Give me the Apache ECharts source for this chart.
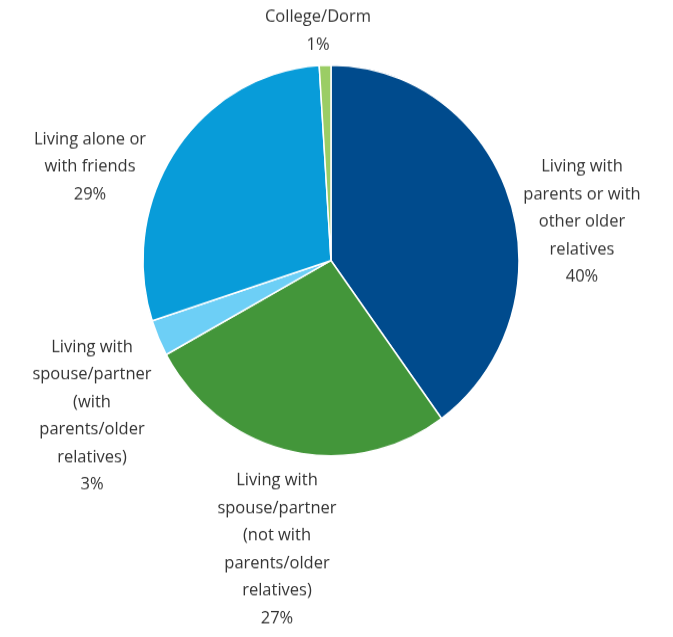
<!DOCTYPE html>
<html>
<head>
<meta charset="utf-8">
<style>
  html, body { margin: 0; padding: 0; background: #fff; overflow: hidden; }
  #wrap { width: 673px; height: 637px; overflow: hidden; }
  /* the pie is drawn slightly taller than wide */
  #chart { width: 673px; height: 613px; transform: scale(1, 1.039); transform-origin: 0 0; }
</style>
<script src="https://cdn.jsdelivr.net/npm/echarts@6/dist/echarts.min.js"></script>
</head>
<body>
<div id="wrap"><div id="chart"></div></div>
<script>
// Living arrangements, share of respondents (%)
const categories = [
  'Living with\nparents or with\nother older\nrelatives',
  'Living with\nspouse/partner\n(not with\nparents/older\nrelatives)',
  'Living with\nspouse/partner\n(with\nparents/older\nrelatives)',
  'Living alone or\nwith friends',
  'College/Dorm'
];
const values = [40, 27, 3, 29, 1];
const colors = ['#004b8d', '#43963a', '#6dcff6', '#089cd9', '#9bcd65'];

// Label anchor points (centre of each text block), in chart pixels
const labelSpots = [[582, 213.5], [277, 529], [92, 400.5], [90, 160.5], [318, 30]];

const chart = echarts.init(document.getElementById('chart'), null, { renderer: 'canvas' });
chart.setOption({
  animation: false,
  series: [{
    type: 'pie',
    center: [331, 250.7],
    radius: 188,
    startAngle: 90,
    clockwise: true,
    data: categories.map((name, i) => ({
      name: name,
      value: values[i],
      itemStyle: { color: colors[i] }
    })),
    itemStyle: { borderColor: '#ffffff', borderWidth: 1.5 },
    label: {
      show: true,
      position: 'outside',
      formatter: p => p.name + '\n' + p.value + '%',
      color: '#333333',
      fontFamily: 'Open Sans',
      fontSize: 16.5,
      lineHeight: 26.5,
      align: 'center',
      overflow: 'none'
    },
    labelLine: { show: false },
    labelLayout: p => ({
      x: labelSpots[p.dataIndex][0],
      y: labelSpots[p.dataIndex][1],
      align: 'center',
      verticalAlign: 'middle'
    }),
    emphasis: { disabled: true }
  }]
});
</script>
</body>
</html>
